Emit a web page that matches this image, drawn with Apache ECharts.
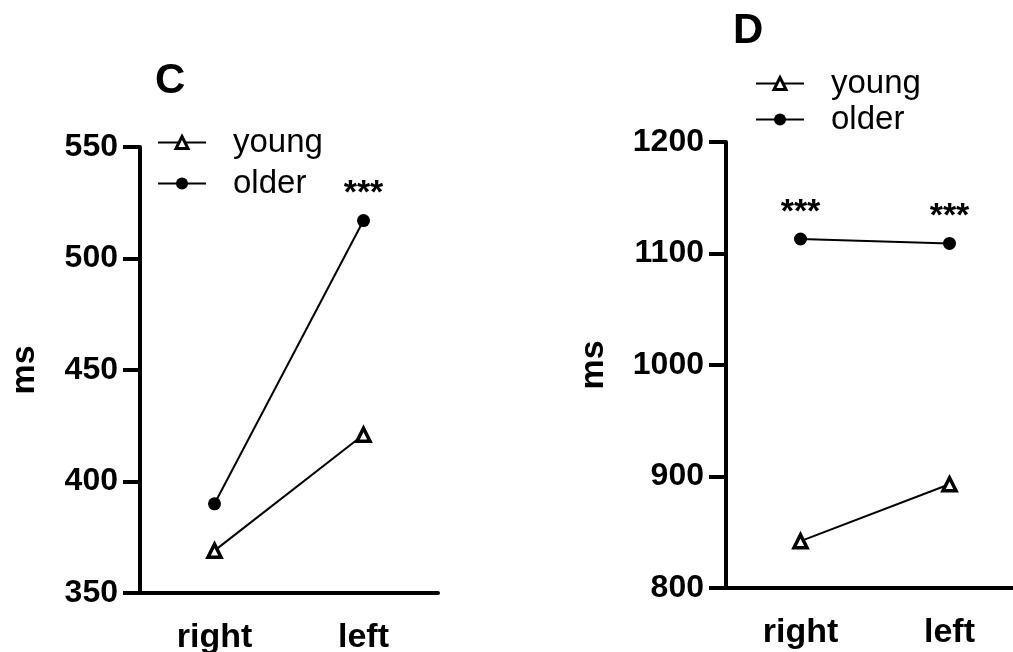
<!DOCTYPE html>
<html>
<head>
<meta charset="utf-8">
<script src="https://cdn.jsdelivr.net/npm/echarts@6/dist/echarts.min.js"></script>
<style>
  html, body { margin: 0; padding: 0; background: #fff; }
  #chart { width: 1013px; height: 652px; }
</style>
</head>
<body>
<div id="chart"></div>
<script>
// Reaction times (ms) by side, young vs older participants
const categories = ['right', 'left'];

// Panel C
const youngC = [369, 421];
const olderC = [390, 517];
const starsC = ['', '***'];
const ticksC = { min: 350, max: 550, interval: 50 };

// Panel D
const youngD = [842, 893];
const olderD = [1113, 1109];
const starsD = ['***', '***'];
const ticksD = { min: 800, max: 1200, interval: 100 };

const FONT = '"Liberation Sans", Arial, Helvetica, sans-serif';
const INK = '#000';

function withStars(values, stars) {
  return values.map((v, i) => stars[i]
    ? { value: v, label: { show: true, formatter: stars[i] } }
    : v);
}

function youngSeries(values, axisIdx) {
  return {
    name: 'young', type: 'line', xAxisIndex: axisIdx, yAxisIndex: axisIdx,
    data: values,
    symbol: 'triangle', symbolSize: 13,
    itemStyle: { color: '#fff', borderColor: INK, borderWidth: 3.5 },
    lineStyle: { color: INK, width: 2 },
    z: 3
  };
}

function olderSeries(values, stars, axisIdx) {
  return {
    name: 'older', type: 'line', xAxisIndex: axisIdx, yAxisIndex: axisIdx,
    data: withStars(values, stars),
    symbol: 'circle', symbolSize: 13,
    itemStyle: { color: INK },
    lineStyle: { color: INK, width: 2 },
    label: {
      show: false, position: 'top', distance: 3,
      color: INK, fontFamily: FONT, fontWeight: 'bold', fontSize: 34
    },
    z: 3
  };
}

function xAxisFor(gridIdx) {
  return {
    type: 'category', gridIndex: gridIdx, data: categories, boundaryGap: true,
    axisLine: { lineStyle: { color: INK, width: 4 } },
    axisTick: { alignWithLabel: true, length: 17, lineStyle: { color: INK, width: 4 } },
    axisLabel: { color: INK, fontFamily: FONT, fontWeight: 'bold', fontSize: 34, margin: 28 },
    splitLine: { show: false }
  };
}

function yAxisFor(gridIdx, t, gap) {
  return {
    type: 'value', gridIndex: gridIdx, min: t.min, max: t.max, interval: t.interval,
    name: 'ms', nameLocation: 'middle', nameRotate: 90, nameGap: gap,
    nameTextStyle: { color: INK, fontFamily: FONT, fontWeight: 'bold', fontSize: 34 },
    axisLine: { show: true, lineStyle: { color: INK, width: 4 } },
    axisTick: { show: true, length: 17, lineStyle: { color: INK, width: 4 } },
    axisLabel: {
      color: INK, fontFamily: FONT, fontWeight: 'bold', fontSize: 32, margin: 22,
      formatter: (v) => String(v)
    },
    splitLine: { show: false }
  };
}

function legendAt(left, top, gap) {
  return {
    data: ['young', 'older'], orient: 'vertical', left: left, top: top,
    padding: 0, itemGap: gap, itemWidth: 48, itemHeight: 15,
    selectedMode: false,
    itemStyle: { borderWidth: 3 },
    textStyle: { color: INK, fontFamily: FONT, fontSize: 33, lineHeight: 33, padding: [0, 0, 0, 22] }
  };
}

const chart = echarts.init(document.getElementById('chart'), null, { renderer: 'canvas' });
chart.setOption({
  animation: false,
  backgroundColor: '#fff',
  title: [
    { text: 'C', left: 155, top: 60, padding: 0,
      textStyle: { color: INK, fontFamily: FONT, fontWeight: 'bold', fontSize: 42 } },
    { text: 'D', left: 733, top: 10, padding: 0,
      textStyle: { color: INK, fontFamily: FONT, fontWeight: 'bold', fontSize: 42 } }
  ],
  legend: [legendAt(157, 126, 8), legendAt(755, 67, 3)],
  grid: [
    { left: 140, top: 147, width: 298, height: 446, containLabel: false, outerBoundsMode: 'none' },
    { left: 726, top: 142, width: 298, height: 446, containLabel: false, outerBoundsMode: 'none' }
  ],
  xAxis: [xAxisFor(0), xAxisFor(1)],
  yAxis: [yAxisFor(0, ticksC, 98), yAxisFor(1, ticksD, 115)],
  series: [
    youngSeries(youngC, 0),
    olderSeries(olderC, starsC, 0),
    youngSeries(youngD, 1),
    olderSeries(olderD, starsD, 1)
  ]
});
</script>
</body>
</html>
